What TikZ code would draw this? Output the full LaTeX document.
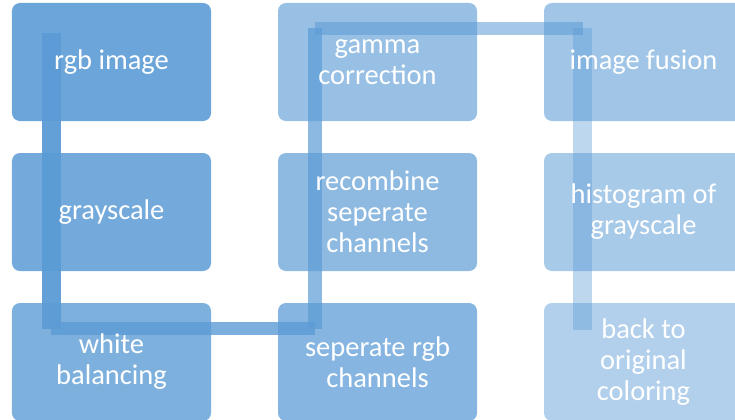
\documentclass[tikz,border=0pt]{standalone}
\usepackage{fontspec}
\setmainfont{Carlito}
\usetikzlibrary{calc,backgrounds}

\definecolor{accent}{RGB}{91,155,213}

\begin{document}
\begin{tikzpicture}
	[x=0.03cm,y=-0.03cm,every node/.style={rectangle,rounded corners=0.24cm,fill=accent,text=white,text opacity=1,
	minimum width=5.97cm,minimum height=3.54cm,inner sep=0pt,align=center,font=\fontsize{24.3}{26.5}\selectfont}]
	\tikzstyle{link} = [draw=accent,line width=0.57cm];
	\useasboundingbox (0,0) rectangle (735,419);
	
	\node[fill opacity=0.90] (rgb) at (111.5,62) {rgb image};
	\node[fill opacity=0.85] (gray) at (111.5,212) {grayscale};
	\node[fill opacity=0.79] (white) at (111.5,362) {white\\balancing};
	\node[fill opacity=0.74] (sep) at (377.5,362) {seperate rgb\\channels};
	\node[fill opacity=0.69] (recomb) at (377.5,212) {recombine\\seperate\\channels};
	\node[fill opacity=0.63] (gamma) at (377.5,62) {gamma\\correction};
	\node[fill opacity=0.58] (fusion) at (643.5,62) {image fusion};
	\node[fill opacity=0.53] (hist) at (643.5,212) {histogram of\\grayscale};
	\node[fill opacity=0.47] (back) at (643.5,362) {back to\\original\\coloring};
	
	\begin{pgfonlayer}{background}
	\draw[link,opacity=0.95] ($(rgb.north west)+(39.5,30)$) -- ($(white.north west)+(39.5,26)$);
	\draw[link,line width=0.39cm,opacity=0.8] ($(white.north west)+(39.5,26)$) -- ($(sep.north west)+(37,26)$);
	\draw[link,line width=0.42cm,opacity=0.7] ($(sep.north west)+(37,26)$) -- ($(gamma.north west)+(37,25.5)$);
	\draw[link,line width=0.39cm,opacity=0.55] ($(gamma.north west)+(37,25.5)$) -- ($(fusion.north west)+(39,25.5)$);
	\draw[link,opacity=0.4] ($(fusion.north west)+(39,25.5)$) -- ($(back.north west)+(39,27)$);
	\end{pgfonlayer}
\end{tikzpicture}
\end{document}
